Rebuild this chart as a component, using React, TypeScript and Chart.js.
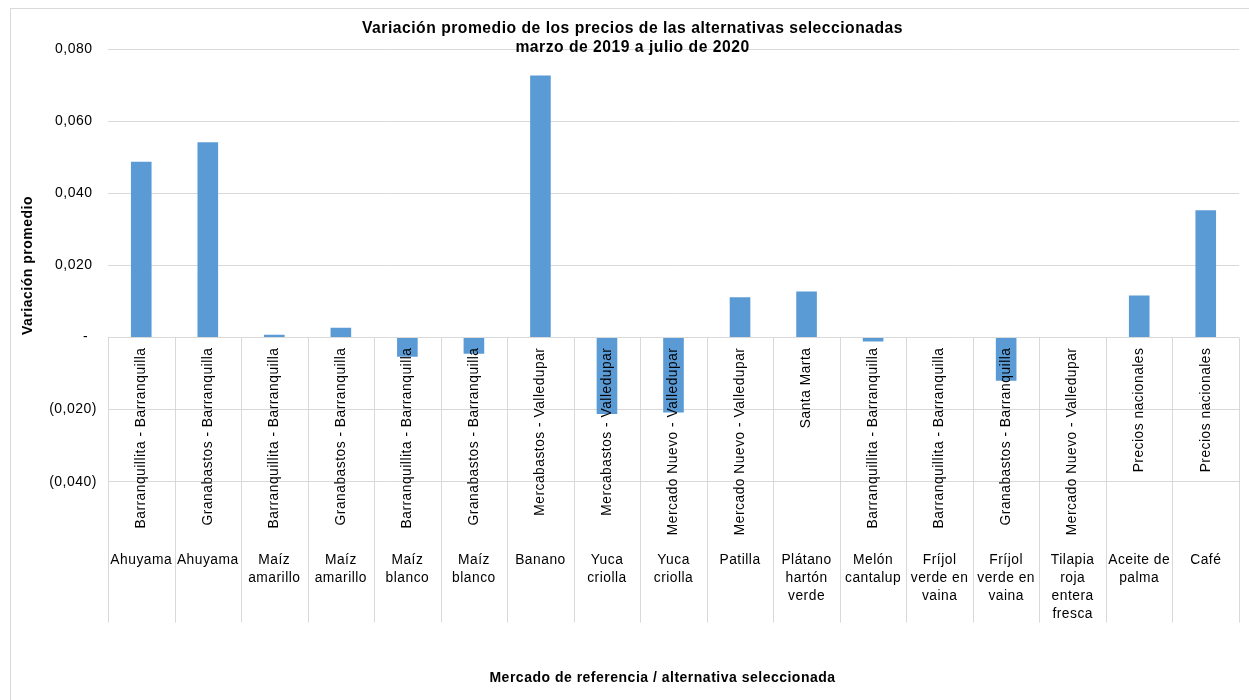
import React, { useEffect, useRef } from "react";
import { Chart, registerables } from "chart.js";

Chart.register(...registerables);

const titleLines = [
  "Variación promedio de los precios de las alternativas seleccionadas",
  "marzo de 2019 a julio de 2020",
];
const yAxisTitle = "Variación promedio";
const xAxisTitle = "Mercado de referencia / alternativa seleccionada";

const products: string[][] = [
  ["Ahuyama"],
  ["Ahuyama"],
  ["Maíz", "amarillo"],
  ["Maíz", "amarillo"],
  ["Maíz", "blanco"],
  ["Maíz", "blanco"],
  ["Banano"],
  ["Yuca", "criolla"],
  ["Yuca", "criolla"],
  ["Patilla"],
  ["Plátano", "hartón", "verde"],
  ["Melón", "cantalup"],
  ["Fríjol", "verde en", "vaina"],
  ["Fríjol", "verde en", "vaina"],
  ["Tilapia", "roja", "entera", "fresca"],
  ["Aceite de", "palma"],
  ["Café"],
];

const markets: string[] = [
  "Barranquillita - Barranquilla",
  "Granabastos - Barranquilla",
  "Barranquillita - Barranquilla",
  "Granabastos - Barranquilla",
  "Barranquillita - Barranquilla",
  "Granabastos - Barranquilla",
  "Mercabastos - Valledupar",
  "Mercabastos - Valledupar",
  "Mercado Nuevo - Valledupar",
  "Mercado Nuevo - Valledupar",
  "Santa Marta",
  "Barranquillita - Barranquilla",
  "Barranquillita - Barranquilla",
  "Granabastos - Barranquilla",
  "Mercado Nuevo - Valledupar",
  "Precios nacionales",
  "Precios nacionales",
];

const values: number[] = [
  0.0488, 0.0542, 0.0008, 0.0027, -0.0053, -0.0045, 0.0727, -0.0212, -0.0208,
  0.0112, 0.0128, -0.0011, 0, -0.012, 0, 0.0117, 0.0353,
];

const yTickValues = [-0.04, -0.02, 0, 0.02, 0.04, 0.06, 0.08];
const yTickLabels = ["(0,040)", "(0,020)", "-  ", "0,020 ", "0,040 ", "0,060 ", "0,080 "];

const FONT = "'Liberation Sans', Arial, sans-serif";
const GRID = "#d9d9d9";
const BAR = "#5B9BD5";

const framePlugin = {
  id: "frame",
  beforeDraw(chart: any) {
    const ctx = chart.ctx;
    ctx.letterSpacing = "0.5px";
    ctx.save();
    ctx.strokeStyle = GRID;
    ctx.lineWidth = 1;
    ctx.strokeRect(10.5, 8.5, chart.width + 50, chart.height + 50);
    ctx.restore();
  },
};

const multiLevelPlugin = {
  id: "multiLevel",
  afterDatasetsDraw(chart: any) {
    const ctx = chart.ctx;
    const xs = chart.scales.x;
    const ys = chart.scales.y;
    const y0 = ys.getPixelForValue(0);
    const n = markets.length;
    const w = (xs.right - xs.left) / n;
    ctx.save();
    ctx.strokeStyle = GRID;
    ctx.lineWidth = 1;
    for (let i = 0; i <= n; i++) {
      const x = Math.round(xs.left + i * w) + 0.5;
      ctx.beginPath();
      ctx.moveTo(x, y0);
      ctx.lineTo(x, y0 + 285);
      ctx.stroke();
    }
    ctx.fillStyle = "#000";
    ctx.font = `13.8px ${FONT}`;
    for (let i = 0; i < n; i++) {
      const cx = xs.getPixelForValue(i);
      ctx.save();
      ctx.translate(cx, y0 + 10);
      ctx.rotate(-Math.PI / 2);
      ctx.textAlign = "right";
      ctx.textBaseline = "middle";
      ctx.fillText(markets[i], 0, 0);
      ctx.restore();
      ctx.textAlign = "center";
      ctx.textBaseline = "middle";
      products[i].forEach((line, j) => {
        ctx.fillText(line, cx, y0 + 223 + j * 17.8);
      });
    }
    ctx.restore();
  },
};

export default function App() {
  const ref = useRef<HTMLCanvasElement | null>(null);
  useEffect(() => {
    document.body.style.margin = "0";
    const canvas = ref.current!;
    const chart = new Chart(canvas, {
      type: "bar",
      data: {
        labels: markets.map((m, i) => `${products[i].join(" ")} / ${m}`),
        datasets: [
          {
            data: values,
            backgroundColor: BAR,
            borderWidth: 0,
            barPercentage: 0.31,
            categoryPercentage: 1,
          },
        ],
      },
      options: {
        animation: false,
        responsive: false,
        layout: { padding: { left: 26, right: 10, top: 0, bottom: 0 } },
        plugins: {
          legend: { display: false },
          tooltip: { enabled: false },
          title: {
            display: true,
            text: titleLines,
            color: "#000",
            font: { family: FONT, size: 15.7, weight: "bold", lineHeight: 1.21 },
            padding: { top: 19.5, bottom: -8.2 },
          },
        },
        scales: {
          x: {
            ticks: { display: false },
            grid: { display: false },
            border: { display: false },
            title: {
              display: true,
              text: xAxisTitle + "     ",
              color: "#000",
              font: { family: FONT, size: 14, weight: "bold", lineHeight: 1.2 },
              padding: { top: 0, bottom: 13.6 },
            },
            afterFit(scale: any) {
              scale.height = 218.3;
            },
          },
          y: {
            min: -0.04,
            max: 0.08,
            border: { display: false },
            grid: { color: GRID, lineWidth: 1, drawTicks: false },
            ticks: {
              stepSize: 0.02,
              padding: 11,
              color: "#000",
              font: { family: FONT, size: 14 },
              callback: (v: any) => {
                const idx = yTickValues.findIndex((t) => Math.abs(t - Number(v)) < 1e-9);
                return idx >= 0 ? yTickLabels[idx] : "";
              },
            },
            title: {
              display: true,
              text: yAxisTitle,
              color: "#000",
              font: { family: FONT, size: 14, weight: "bold", lineHeight: 1.2 },
              padding: { top: -6.4, bottom: 0 },
            },
            afterFit(scale: any) {
              scale.width = 82;
            },
          },
        },
      },
      plugins: [framePlugin, multiLevelPlugin],
    });
    return () => chart.destroy();
  }, []);
  return (
    <div style={{ width: 1249, height: 700 }}>
      <canvas ref={ref} width={1249} height={700} style={{ display: "block" }} />
    </div>
  );
}
